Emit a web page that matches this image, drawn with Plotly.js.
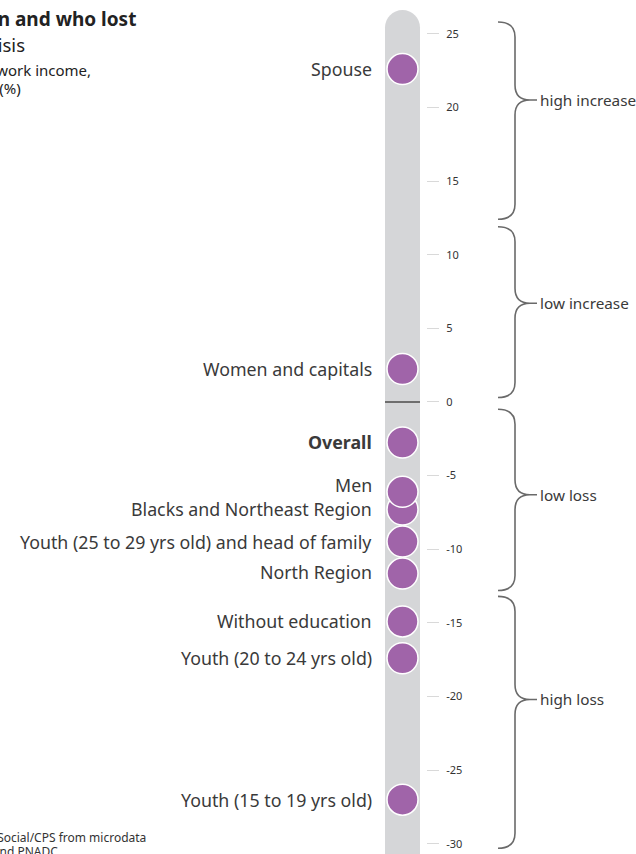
<!DOCTYPE html>
<html>
<head>
<meta charset="utf-8">
<script src="https://cdn.plot.ly/plotly-3.0.1.min.js"></script>
<style>
  html, body { margin: 0; padding: 0; background: #fff; overflow: hidden; }
  #chart { width: 636px; height: 854px; }
</style>
</head>
<body>
<div id="chart"></div>
<script>
// ---- data ----
const categories = [
  'Spouse',
  'Women and capitals',
  'Overall',
  'Blacks and Northeast Region',
  'Men',
  'Youth (25 to 29 yrs old) and head of family',
  'North Region',
  'Without education',
  'Youth (20 to 24 yrs old)',
  'Youth (15 to 19 yrs old)'
];
const values = [22.6, 2.24, -2.75, -7.3, -6.1, -9.48, -11.65, -14.9, -17.4, -27.0];
const boldLabel = ['Overall'];

const tickValues = [25, 20, 15, 10, 5, 0, -5, -10, -15, -20, -25, -30];
const tickLabels = ['25', '20', '15', '10', '5', '0', '-5', '-10', '-15', '-20', '-25', '-30'];

const braceLabels = ['high increase', 'low increase', 'low loss', 'high loss'];
const braceTop    = [25.8, 11.9, -0.5, -13.2];
const braceBottom = [12.4, 0.3, -12.8, -30.3];
const braceTip    = [20.5, 6.7, -6.3, -20.2];

const titleLines = ['Who won and who lost', 'during the crisis', 'Variation in work income,', '2nd quarter 2020 (%)'];
const sourceLines = ['Source: FGV Social/CPS from microdata', 'of PNAD Covid and PNADC'];

// ---- layout helpers (positions / styles) ----
const W = 636, H = 854;
const yMin = -30.69, yMax = 27.29;
const k = (yMax - yMin) / H;           // data units per pixel
const pyToPaper = py => 1 - py / H;
const barX = 402.5, barHalf = 17.5;
const labelShift = { 'Men': 7, 'North Region': 2 };

const FONT = 'Noto Sans, Open Sans, sans-serif';

const shapes = [];
// grey pill
(function () {
  const l = barX - barHalf, r = barX + barHalf, top = 10, rad = barHalf, c = rad * 0.552;
  const P = (x, py) => x + ',' + pyToPaper(py);
  const path = 'M' + P(l, H + 20) + ' L' + P(l, top + rad) +
    ' C' + P(l, top + rad - c) + ' ' + P(barX - c, top) + ' ' + P(barX, top) +
    ' C' + P(barX + c, top) + ' ' + P(r, top + rad - c) + ' ' + P(r, top + rad) +
    ' L' + P(r, H + 20) + ' Z';
  shapes.push({ type: 'path', xref: 'x', yref: 'paper', path: path,
    fillcolor: '#d5d6d8', line: { width: 0 }, layer: 'below' });
})();
// zero line
shapes.push({ type: 'line', xref: 'x', yref: 'y', x0: barX - barHalf, x1: barX + barHalf, y0: 0, y1: 0,
  line: { color: '#6e6e6e', width: 2 }, layer: 'below' });

// braces
const bx0 = 498, bxv = 515, bxt = 530, bxe = 537, br = 15;
braceLabels.forEach((lab, i) => {
  const t = braceTop[i], b = braceBottom[i], m = braceTip[i];
  const ry = br * k;
  const path =
    'M' + bx0 + ',' + t +
    ' Q' + bxv + ',' + t + ' ' + bxv + ',' + (t - ry) +
    ' L' + bxv + ',' + (m + ry) +
    ' Q' + bxv + ',' + m + ' ' + bxt + ',' + m +
    ' L' + bxe + ',' + m +
    ' M' + bxt + ',' + m +
    ' Q' + bxv + ',' + m + ' ' + bxv + ',' + (m - ry) +
    ' L' + bxv + ',' + (b + ry) +
    ' Q' + bxv + ',' + b + ' ' + bx0 + ',' + b;
  shapes.push({ type: 'path', xref: 'x', yref: 'y', path: path,
    line: { color: '#6a6a6a', width: 1.6 }, fillcolor: 'rgba(0,0,0,0)' });
});

const annotations = [];
// point labels
categories.forEach((c, i) => {
  const bold = boldLabel.includes(c);
  annotations.push({
    x: barX, y: values[i], xref: 'x', yref: 'y',
    text: bold ? '<b>' + c + '</b>' : c,
    showarrow: false, xanchor: 'right', yanchor: 'middle',
    xshift: -29, yshift: labelShift[c] || 0,
    font: { family: FONT, size: 17.8, color: '#3a3a3a' }
  });
});
// brace labels
braceLabels.forEach((lab, i) => {
  annotations.push({
    x: bxe + 1, y: braceTip[i], xref: 'x', yref: 'y', text: lab,
    showarrow: false, xanchor: 'left', yanchor: 'middle',
    font: { family: FONT, size: 15.3, color: '#3a3a3a' }
  });
});
// title fragments (cut by page edge)
const titleEnds = [138, 27, 93, 23];
const titleY = [19, 45, 70, 88];
const titleSize = [19, 18.5, 15, 15];
titleLines.forEach((t, i) => {
  annotations.push({
    x: titleEnds[i], y: pyToPaper(titleY[i]), xref: 'x', yref: 'paper',
    text: i === 0 ? '<b>' + t + '</b>' : t,
    showarrow: false, xanchor: 'right', yanchor: 'middle',
    font: { family: FONT, size: titleSize[i], color: '#222' }
  });
});
// source
const srcEnds = [148, 60];
const srcY = [837, 851];
sourceLines.forEach((t, i) => {
  annotations.push({
    x: srcEnds[i], y: pyToPaper(srcY[i]), xref: 'x', yref: 'paper', text: t,
    showarrow: false, xanchor: 'right', yanchor: 'middle',
    font: { family: FONT, size: 12, color: '#333' }
  });
});

const trace = {
  type: 'scatter', mode: 'markers',
  x: categories.map(() => barX), y: values,
  text: categories, hoverinfo: 'text+y',
  marker: { size: 31, color: '#a064a9', line: { color: '#ffffff', width: 1.5 } },
  cliponaxis: false
};

const layout = {
  width: W, height: H,
  margin: { l: 0, r: 0, t: 0, b: 0, pad: 0 },
  paper_bgcolor: '#ffffff', plot_bgcolor: 'rgba(0,0,0,0)',
  showlegend: false,
  xaxis: { range: [0, W], visible: false, fixedrange: true },
  yaxis: {
    range: [yMin, yMax], anchor: 'free', position: 426 / W, side: 'right',
    tickvals: tickValues, ticktext: tickLabels,
    ticks: 'outside', ticklen: 12, tickwidth: 1, tickcolor: '#d9d9d9',
    ticklabelstandoff: 5,
    showgrid: false, zeroline: false, showline: false, fixedrange: true,
    tickfont: { family: FONT, size: 11, color: '#333' }
  },
  shapes: shapes,
  annotations: annotations,
  font: { family: FONT }
};

Plotly.newPlot('chart', [trace], layout, { displayModeBar: false, staticPlot: true });
</script>
</body>
</html>
